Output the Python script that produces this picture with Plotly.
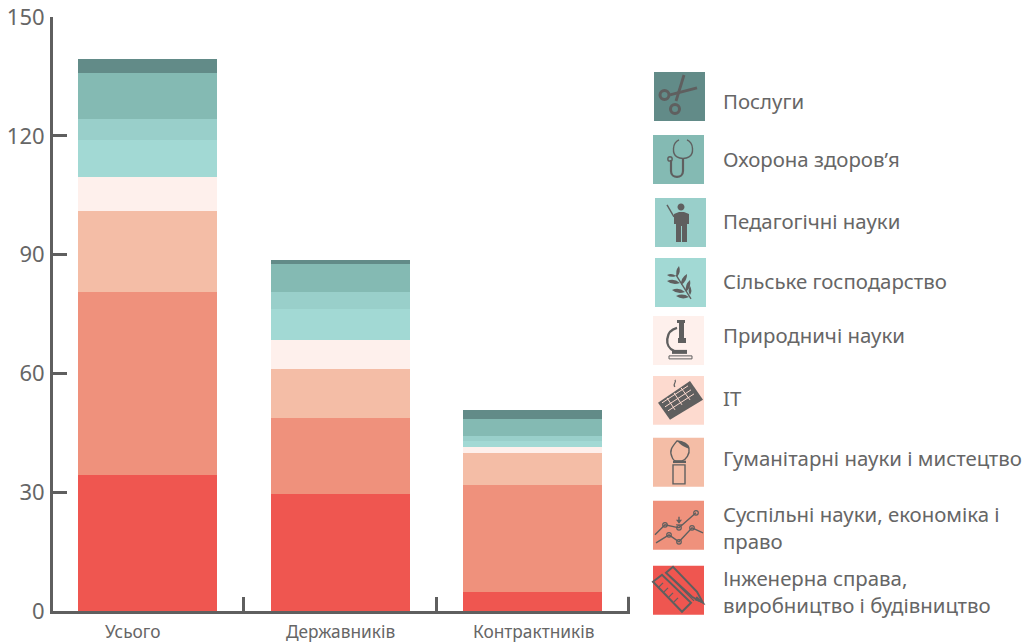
import re
import plotly.graph_objects as go

W, H = 1024, 644
L, R, T, B = 53, 630, 17, 611.2
BAND_START, BAND = 51.25, 192.6

groups = ["Усього", "Державників", "Контрактників"]
group_shift = [-15, 0, 1]
y_ticks = [0, 30, 60, 90, 120, 150]

engineering = [34.3, 29.6, 4.9]
social = [46.3, 19.2, 27.0]
humanities = [20.4, 12.4, 8.1]
it = [0, 0, 0]
natural = [8.6, 7.3, 1.3]
agriculture = [9.4, 7.8, 1.6]
pedagogy = [5.3, 4.3, 1.2]
health = [11.6, 7.1, 4.3]
services = [3.5, 1.0, 2.3]

names = ["Інженерна справа,<br>виробництво і будівництво",
         "Суспільні науки, економіка і<br>право",
         "Гуманітарні науки і мистецтво", "IT", "Природничі науки",
         "Сільське господарство", "Педагогічні науки", "Охорона здоров’я", "Послуги"]
series = [engineering, social, humanities, it, natural, agriculture, pedagogy, health, services]
colors = ["#EF5650", "#EF917C", "#F4BDA6", "#FDDACF", "#FEF0EC",
          "#A2D9D4", "#99CFCA", "#84BAB3", "#628B88"]
ink = "#5F5F5F"
text_color = "#666666"
FONT = "Noto Sans"

# legend box positions: left, top, text centre (pixels)
boxes = [(653, 566, 592), (653, 501, 527.5), (653, 438, 458), (653, 376, 398), (653, 316, 335),
         (655, 258, 281), (655, 198, 221), (653, 135, 159), (654, 72, 101)]


def fx(x):
    return (x - L) / (R - L)


def fy(y):
    return (B - y) / (B - T)


def conv(path, ox, oy):
    nums = iter(re.findall(r"-?\d+\.?\d*|[A-Za-z]", path))
    out, is_x = [], True
    for t in nums:
        if t.isalpha():
            out.append(t)
            is_x = True
        else:
            out.append(f"{fx(float(t) + ox):.5f}" if is_x else f"{fy(float(t) + oy):.5f}")
            is_x = not is_x
    return " ".join(out)


def circ(cx, cy, r):
    k = 0.55 * r
    return (f"M {cx-r} {cy} C {cx-r} {cy-k} {cx-k} {cy-r} {cx} {cy-r} "
            f"C {cx+k} {cy-r} {cx+r} {cy-k} {cx+r} {cy} "
            f"C {cx+r} {cy+k} {cx+k} {cy+r} {cx} {cy+r} "
            f"C {cx-k} {cy+r} {cx-r} {cy+k} {cx-r} {cy} Z")


def leaf(x0, y0, x1, y1):
    dx, dy = (x1 - x0) * .5, (y1 - y0) * .5
    mx, my = (x0 + x1) / 2, (y0 + y1) / 2
    a = f"{mx - dy*.6:.1f} {my + dx*.6:.1f}"
    b = f"{mx + dy*.6:.1f} {my - dx*.6:.1f}"
    return f"M {x0} {y0} Q {a} {x1} {y1} Q {b} {x0} {y0} Z"


# each icon: list of (path, fill?, stroke width, stroke colour or None)
icons = {
    8: [("M 30 3 L 22 29", 0, 2.8), ("M 43 16 L 16 23", 0, 2.8), (circ(21, 37, 4.5), 0, 3), (circ(10.5, 23, 4.5), 0, 3)],
    7: [("M 26 5 C 19 8 19 19 24 22 C 27 24 33 24 36 22 C 41 19 41 8 34 5", 0, 1.4),
        ("M 30 23 L 30 36 C 30 44 18 44 18 36 L 18 25", 0, 2.2), (circ(17, 24, 2.2), 0, 1.4)],
    6: [(circ(26, 9, 3.5), 1, 0),
        ("M 19 16 L 24 14 L 29 14 L 34 16 L 34 26 L 32 26 L 32 44 L 27 44 L 27 28 L 26 28 L 26 44 L 21 44 L 21 26 L 19 26 Z", 1, 0),
        ("M 12 7 L 19 19", 0, 1.4)],
    5: [("M 36 41 L 21 17", 0, 1.4), (leaf(22, 19, 24, 8), 1, 0), (leaf(21, 18, 12, 17), 1, 0),
        (leaf(26, 27, 32, 16), 1, 0), (leaf(25, 25, 12, 23), 1, 0), (leaf(31, 34, 35, 22), 1, 0),
        (leaf(30, 34, 17, 32), 1, 0), (leaf(34, 39, 21, 38), 1, 0), (leaf(35, 37, 35, 28), 1, 0)],
    4: [("M 16 40 L 39 40 L 39 43 L 16 43 Z", 0, 1), ("M 19 34 L 34 34 L 34 38 L 19 38 Z", 1, 0),
        ("M 24 4 L 32 4 L 32 7 L 31 7 L 31 22 L 33 22 L 33 27 L 25 27 L 25 22 L 26 22 L 26 7 L 24 7 Z", 1, 0),
        ("M 24 12 C 12 15 11 31 21 35", 0, 2.4)],
    3: [("M 5 27 L 37 5 L 50 24 L 17 44 Z", 1, 0),
        ("M 9 27 L 35 10", 0, 1, "#FDDACF"), ("M 12 31 L 38 14", 0, 1, "#FDDACF"), ("M 15 35 L 41 18", 0, 1, "#FDDACF"),
        ("M 14 22 L 22 34", 0, 1, "#FDDACF"), ("M 21 17 L 29 29", 0, 1, "#FDDACF"), ("M 28 12 L 37 24", 0, 1, "#FDDACF"),
        ("M 22 11 C 19 8 24 7 22 4", 0, 1.2)],
    2: [("M 20 27 L 32 27 L 32 46 L 20 46 Z", 0, 1.4), ("M 20 24 L 33 24", 0, 2.4),
        ("M 24 3 C 19 9 16 13 19 19 C 20 22 22 23 23 23 L 29 23 C 33 22 37 16 36 11 C 36 7 30 3 24 3 Z", 0, 1.4),
        ("M 24 3 C 30 3 36 7 36 11 C 33 10 28 8 24 3 Z", 1, 0)],
    1: [("M 2 34 L 12 24 L 26 27 L 43 12", 0, 1.4), ("M 3 42 L 16 34 L 26 41 L 39 27 L 50 32", 0, 1.4),
        (circ(12, 24, 2.3), 0, 1.2), (circ(26, 27, 2.3), 0, 1.2), (circ(43, 12, 2.3), 0, 1.2),
        (circ(16, 34, 2.3), 0, 1.2), (circ(26, 41, 2.3), 0, 1.2), (circ(39, 27, 2.3), 0, 1.2),
        ("M 26 16 L 26 22", 0, 1.4), ("M 23 19 L 26 23 L 29 19 Z", 1, 0), ("M 23 24 L 29 24", 0, 1)],
    0: [("M 0 16 L 9 9 L 38 37 L 29 46 Z", 0, 2), ("M 6 21 L 10 17", 0, 1.2), ("M 11 26 L 15 22", 0, 1.2),
        ("M 16 31 L 20 27", 0, 1.2), ("M 21 36 L 25 32", 0, 1.2),
        ("M 13 7 L 20 1 L 44 26 L 50 37 L 39 31 Z", 0, 2), ("M 17 11 L 41 35", 0, 1.2), ("M 44 31 L 50 37 L 42 34 Z", 1, 1)],
}

fig = go.Figure()
for name, vals, col in zip(names, series, colors):
    fig.add_trace(go.Bar(x=groups, y=vals, name=name.replace("<br>", " "),
                         marker=dict(color=col, line=dict(width=0)), showlegend=False))

# closing tick at the right end of the category axis
shapes = [dict(type="line", xref="paper", yref="paper", x0=fx(628.5), x1=fx(628.5), y0=fy(611.2), y1=fy(597),
               line=dict(color=ink, width=3))]
annos = []
for i, (name, col, (bx, by, tc)) in enumerate(zip(names, colors, boxes)):
    shapes.append(dict(type="rect", xref="paper", yref="paper", x0=fx(bx), x1=fx(bx + 51),
                       y0=fy(by), y1=fy(by + 49), fillcolor=col, line=dict(width=0), layer="below"))
    for item in icons[i]:
        p, filled, w = item[:3]
        c = item[3] if len(item) > 3 else ink
        shapes.append(dict(type="path", xref="paper", yref="paper", path=conv(p, bx, by),
                           fillcolor=c if filled else "rgba(0,0,0,0)",
                           line=dict(color=c, width=w)))
    annos.append(dict(text=name, xref="paper", yref="paper", x=fx(721), y=fy(tc), xanchor="left", yanchor="middle",
                      align="left", showarrow=False, font=dict(family=FONT, size=20.4, color=text_color)))

for g, s in zip(groups, group_shift):
    annos.append(dict(text=g, xref="x", yref="paper", x=g, y=fy(619.5), xanchor="center", yanchor="top",
                      xshift=s, showarrow=False, borderpad=0,
                      font=dict(family=FONT, size=17.3, color=text_color)))

fig.update_layout(
    width=W, height=H, barmode="stack", bargap=0.278, showlegend=False,
    margin=dict(l=L, r=W - R, t=T, b=H - B, pad=0, autoexpand=False),
    paper_bgcolor="white", plot_bgcolor="white",
    shapes=shapes, annotations=annos,
    xaxis=dict(type="category", range=[-0.5 + (L - BAND_START) / BAND, -0.5 + (R - BAND_START) / BAND],
               showgrid=False, tickson="boundaries", ticks="inside",
               ticklen=14, tickwidth=3, tickcolor=ink, showticklabels=False, showline=True,
               linecolor=ink, linewidth=3, layer="below traces"),
    yaxis=dict(range=[0, 150], tickvals=y_ticks, showgrid=False, zeroline=False, ticks="inside", ticklen=14,
               tickwidth=3, tickcolor=ink, showline=True, linecolor=ink, linewidth=3,
               tickfont=dict(family=FONT, size=22, color=text_color), ticklabelstandoff=1, layer="below traces"),
)
fig.write_html("out.html", config={"displayModeBar": False},
               post_script="document.body.style.margin='0';document.body.style.overflow='hidden';")
